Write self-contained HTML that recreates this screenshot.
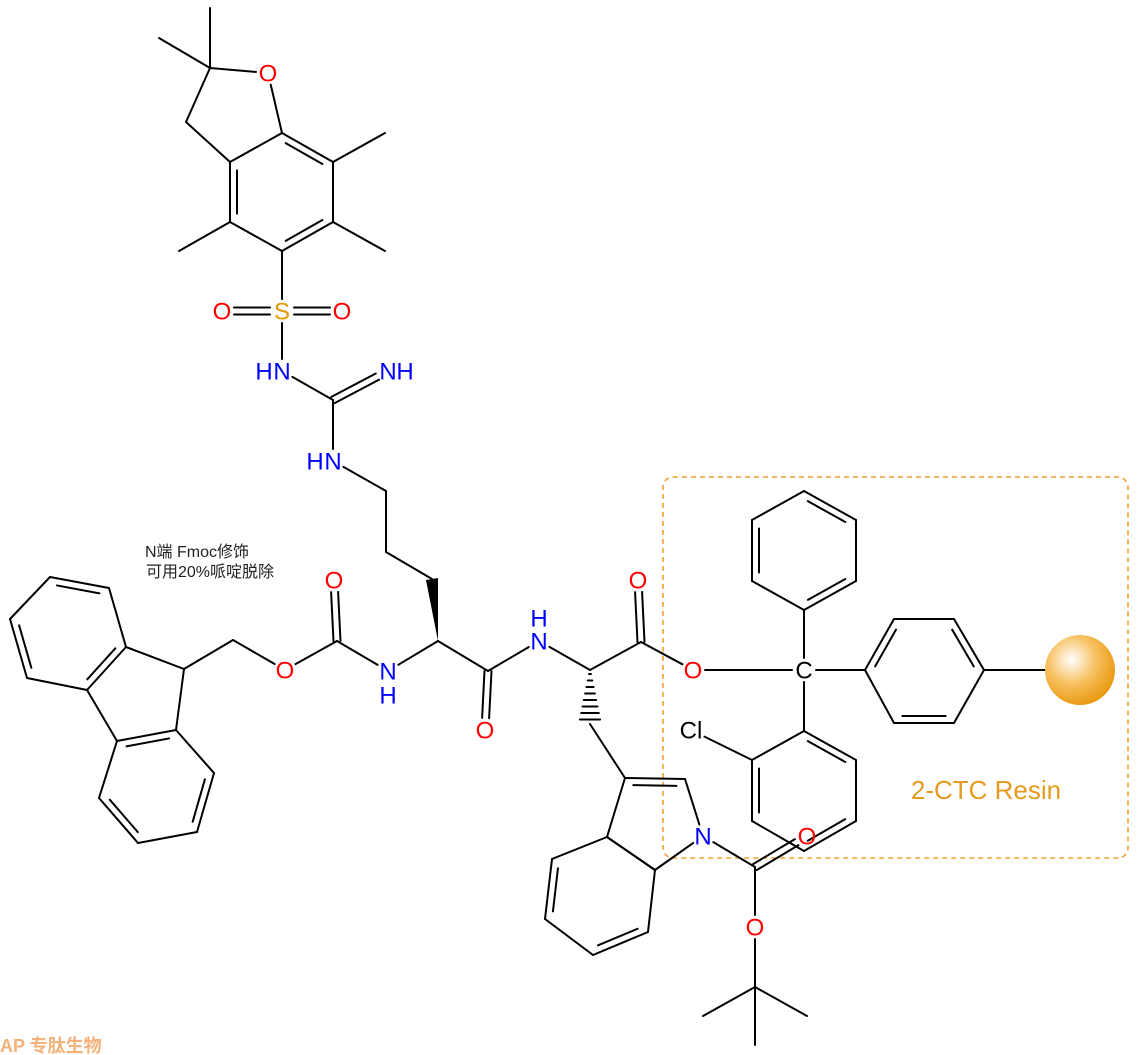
<!DOCTYPE html>
<html><head><meta charset="utf-8"><style>
html,body{margin:0;padding:0;background:#fff;}
svg{display:block;}
text{font-family:"Liberation Sans","Noto Sans CJK SC",sans-serif;}
</style></head><body>
<svg id="s" width="1140" height="1055" viewBox="0 0 1140 1055" xmlns="http://www.w3.org/2000/svg">
<defs><radialGradient id="g" cx="0.38" cy="0.35" r="0.7"><stop offset="0" stop-color="#fff"/><stop offset="0.5" stop-color="#f7c060"/><stop offset="1" stop-color="#e8960a"/></radialGradient></defs>
<rect x="663" y="477" width="465" height="381" rx="10" fill="none" stroke="#F0A030" stroke-width="1.6" stroke-dasharray="5,4"/>
<g id="b" stroke="#000" stroke-width="2" stroke-linecap="round" fill="none"></g>
<g id="l" font-size="24" text-anchor="middle"></g>
<circle cx="1080" cy="670" r="35" fill="url(#g)"/>
<text x="145" y="557" font-size="16" fill="#222">N端 Fmoc修饰</text>
<text x="146" y="577" font-size="16" fill="#222">可用20%哌啶脱除</text>
<text x="986" y="799" font-size="26" fill="#E69A1E" text-anchor="middle">2-CTC Resin</text>
<text x="0" y="1052" font-size="18" fill="#F2B27A" font-weight="bold">AP 专肽生物</text>
</svg>
<script>
const A={
Cq:[210,68],M1:[210,8],M2:[159,38],Of:[268,73,'O'],CH2:[186,122],
C3a:[230,162],C7a:[282,133],C7:[333,162],C6:[333,222],C5:[282,251],C4:[230,222],
M3:[385,133],M4:[385,251],M5:[179,251],
S:[282,311,'S'],Osl:[222,311,'O'],Osr:[342,311,'O'],N1:[282,371,'N'],Cg:[333,400],N2:[388,371,'N'],N3:[333,461,'N'],
K1:[386,491],K2:[386,552],K3:[432,579],a1:[438,641],Nb:[388,671,'N'],Cam:[488,671],Oam:[485,730,'O'],Nc:[539,641,'N'],
Cc:[337,641],Oc:[334,580,'O'],Oe:[285,670,'O'],F0:[233,640],C9:[184,669],
C9a:[126,647],C1:[109,588],C2:[50,577],C3:[10,619],Cf4:[27,678],C4a:[87,690],
C4b:[117,741],C8a:[176,730],C8:[214,773],Cf7:[197,832],Cf6:[138,843],Cf5:[99,798],
a2:[590,670],Cx:[641,642],Ox:[638,580,'O'],Oy:[693,670,'O'],Ct:[804,670,'C'],
P1:[804,610],P2:[856,581],P3:[856,520],P4:[804,491],P5:[752,520],P6:[752,581],
Q1:[865,670],Q2:[894,619],Q3:[954,619],Q4:[984,670],Q5:[954,723],Q6:[894,723],R:[1045,670],
R1:[804,731],R2:[856,760],R3:[856,821],R4:[804,851],R5:[752,821],R6:[752,760],Cl:[691,730,'Cl'],
CB:[590,724],T3:[625,778],T2:[685,779],TN:[703,836,'N'],T7a:[655,870],T3a:[607,837],
T4:[552,859],T5:[545,919],T6:[593,955],T7:[648,932],
Bc:[755,867],Bo:[807,836,'O'],Bo2:[755,927,'O'],Bt:[755,987],B1:[703,1016],B2:[807,1016],B3:[755,1045]
};
const col={O:'#FF0000',N:'#0000FF',S:'#E69A00',C:'#000',Cl:'#000'};
const B=document.getElementById('b'),L=document.getElementById('l');
function P(n){return A[n];}
function sh(a,b){
 let [x1,y1]=P(a),[x2,y2]=P(b);let dx=x2-x1,dy=y2-y1,d=Math.hypot(dx,dy);let ux=dx/d,uy=dy/d;
 let s1=P(a)[2]?(P(a)[2]=='Cl'?15:12):0,s2=P(b)[2]?(P(b)[2]=='Cl'?15:12):0;
 return [x1+ux*s1,y1+uy*s1,x2-ux*s2,y2-uy*s2];}
function line(x1,y1,x2,y2){B.insertAdjacentHTML('beforeend',`<line x1="${x1}" y1="${y1}" x2="${x2}" y2="${y2}"/>`);}
function s(a,b){let [x1,y1,x2,y2]=sh(a,b);line(x1,y1,x2,y2);}
function par(a,b){let [x1,y1,x2,y2]=sh(a,b);let d=Math.hypot(x2-x1,y2-y1);let nx=-(y2-y1)/d*3.5,ny=(x2-x1)/d*3.5;
 line(x1+nx,y1+ny,x2+nx,y2+ny);line(x1-nx,y1-ny,x2-nx,y2-ny);}
function inn(a,b,c){let [x1,y1]=P(a),[x2,y2]=P(b);line(x1,y1,x2,y2);
 let cx=0,cy=0;c.forEach(n=>{cx+=P(n)[0];cy+=P(n)[1];});cx/=c.length;cy/=c.length;
 let dx=x2-x1,dy=y2-y1,d=Math.hypot(dx,dy);let nx=-dy/d,ny=dx/d;let mx=(x1+x2)/2,my=(y1+y2)/2;
 if((cx-mx)*nx+(cy-my)*ny<0){nx=-nx;ny=-ny;}
 let o=7,t=0.14;line(x1+dx*t+nx*o,y1+dy*t+ny*o,x2-dx*t+nx*o,y2-dy*t+ny*o);}
function ring(r,dbl){for(let i=0;i<r.length;i++){let a=r[i],b=r[(i+1)%r.length];
 if(dbl.includes(i))inn(a,b,r);else s(a,b);}}
[['Cq','M1'],['Cq','M2'],['Cq','Of'],['Of','C7a'],['Cq','CH2'],['CH2','C3a'],['C7','M3'],['C6','M4'],['C4','M5'],['C5','S'],
['S','N1'],['N1','Cg'],['Cg','N3'],['N3','K1'],['K1','K2'],['K2','K3'],['a1','Nb'],['a1','Cam'],['Cam','Nc'],['Nc','a2'],
['Nb','Cc'],['Cc','Oe'],['Oe','F0'],['F0','C9'],['C9','C9a'],['C9','C8a'],['C4a','C4b'],
['a2','Cx'],['Cx','Oy'],['Oy','Ct'],['Ct','P1'],['Ct','Q1'],['Q4','R'],['Ct','R1'],['R6','Cl'],['CB','T3'],
['TN','Bc'],['Bc','Bo2'],['Bo2','Bt'],['Bt','B1'],['Bt','B2'],['Bt','B3']].forEach(p=>s(p[0],p[1]));
[['S','Osl'],['S','Osr'],['Cg','N2'],['Cam','Oam'],['Cc','Oc'],['Cx','Ox'],['Bc','Bo']].forEach(p=>par(p[0],p[1]));
ring(['C3a','C7a','C7','C6','C5','C4'],[1,3,5]);
ring(['C9a','C1','C2','C3','Cf4','C4a'],[1,3,5]);
ring(['C8a','C8','Cf7','Cf6','Cf5','C4b'],[1,3,5]);
ring(['P1','P2','P3','P4','P5','P6'],[0,2,4]);
ring(['Q1','Q2','Q3','Q4','Q5','Q6'],[0,2,4]);
ring(['R1','R2','R3','R4','R5','R6'],[0,2,4]);
ring(['T3','T2','TN','T7a','T3a'],[0]);
ring(['T3a','T4','T5','T6','T7','T7a'],[1,3]);
B.insertAdjacentHTML('beforeend','<polygon points="438,641 426,580 438,578" fill="#000" stroke="none"/>');
for(let i=0;i<8;i++){let y=674+i*6.5,w=1+i*1.3;line(590-w,y,590+w,y);}
function lab(t,x,y,c,anc){L.insertAdjacentHTML('beforeend',`<text x="${x}" y="${y+8.5}" fill="${c}" ${anc?'text-anchor="'+anc+'"':''}>${t}</text>`);}
for(const k in A){const a=A[k];if(a[2])lab(a[2],a[0],a[1],col[a[2]]);}
lab('H',264,371,'#0000FF');lab('H',315,461,'#0000FF');lab('H',405,371,'#0000FF');
lab('H',388,695,'#0000FF');lab('H',539,618,'#0000FF');
</script>
</body></html>
